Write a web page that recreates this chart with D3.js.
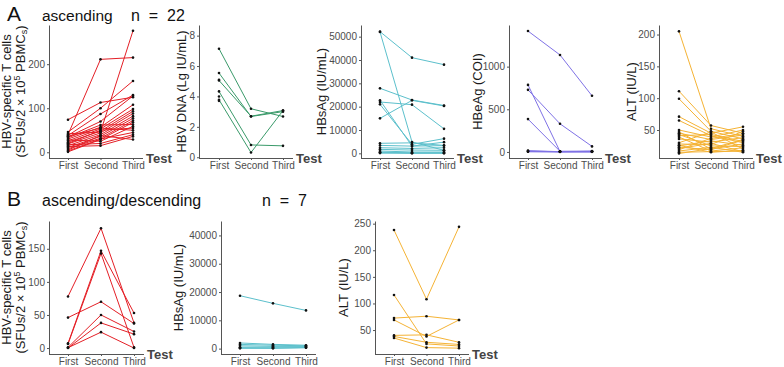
<!DOCTYPE html>
<html>
<head>
<meta charset="utf-8">
<script src="https://cdn.jsdelivr.net/npm/d3@7"></script>
<style>
  body { margin: 0; background: #fff; }
  text { font-family: "Liberation Sans", Arial, sans-serif; }
</style>
</head>
<body>
<svg id="chart" width="784" height="367"></svg>
<script>
const tests = ["First", "Second", "Third"];

// ---- A: ascending (n = 22), one row per patient: [First, Second, Third]
const aTcells = [
  [74, 113, 125], [40, 211, 215], [42, 46, 276], [46, 100, 162],
  [38, 87, 130], [35, 70, 128], [30, 57, 108], [26, 53, 98],
  [23, 48, 93], [19, 44, 88], [15, 40, 82], [11, 36, 77],
  [8, 32, 72], [1, 29, 68], [33, 62, 63], [28, 25, 59],
  [20, 50, 55], [17, 20, 40], [13, 15, 36], [5, 38, 29],
  [36, 55, 50], [3, 30, 45]
];
const aDna = [
  [7.14, 3.19, 2.68], [5.54, 2.68, 3.0], [5.05, 2.70, 3.07],
  [4.33, 0.81, 0.75], [3.78, 0.31, 3.07],
  [5.1, null, null], [4.0, null, null], [3.71, null, null]
];
const aHbsag = [
  [52140, 41000, 38000], [52000, 4860, 1300], [27860, 22860, 20500],
  [15000, 22700, 20300], [22000, 20860, 10500], [21000, 3860, 6300],
  [22710, 3100, 4800], [4300, 4500, 3400], [3400, 3100, 3300],
  [2400, 2100, 2400], [1700, 1400, 1300], [1000, 570, 570],
  [300, 100, 300], [500, 200, 100], [100, 50, 50]
];
const aHbeag = [
  [1417, 1137, 658], [786, 5, 5], [728, 330, 65], [385, 8, 10],
  [15, 3, 2], [10, 2, 8], [5, 1, 2], [2, 1, 1]
];
const aAlt = [
  [205, 52, 40], [111, 57, 45], [99, 48, 36], [71, 45, 55],
  [65, 41, 30], [50, 39, 50], [47, 20, 28], [45, 35, 42],
  [43, 25, 24], [41, 43, 32], [39, 17, 22], [36, 31, 38],
  [30, 47, 20], [28, 27, 48], [26, 15, 18], [25, 33, 26],
  [23, 19, 34], [21, 29, 16], [19, 37, 44], [17, 23, 15],
  [15, 16, 17], [13, 21, 35]
];

// ---- B: ascending/descending (n = 7)
const bTcells = [
  [78, 181, 38], [46, 70, 37], [7, 147, 53], [6, 143, 1],
  [1, 50, 25], [0, 38, 21], [0.5, 24, 0]
];
const bHbsag = [
  [18700, 16000, 13500], [2000, 1500, 1200], [1500, 1200, 1000],
  [1000, 800, 800], [500, 500, 600], [300, 200, 400], [100, 100, 300]
];
const bAlt = [
  [238, 108, 244], [116, 24, 20], [72.5, 76, 69], [69, 38, 69],
  [40, 41, 27], [38, 27, 23], [35, 17, 16]
];

const svg = d3.select("#chart");

function title(label, sub, subSize, n, y) {
  svg.append("text").attr("x", 7).attr("y", y).attr("font-size", 21).attr("fill", "#111").text(label);
  svg.append("text").attr("x", 42).attr("y", y).attr("font-size", subSize).attr("fill", "#111").text(sub);
  svg.append("text").attr("x", n.x).attr("y", y).attr("font-size", 16).attr("fill", "#111")
    .style("white-space", "pre").text(n.label);
}

function panel(cfg) {
  const third = cfg.first + 2 * cfg.step;
  const x = d3.scalePoint().domain(tests).range([cfg.first, third]);
  const y = d3.scaleLinear().domain(cfg.domain).range([cfg.bottom, cfg.top]);
  const g = svg.append("g");

  const rows = cfg.data.map(r => r.map((v, i) => ({ t: tests[i], v })));
  const line = d3.line().defined(d => d.v != null).x(d => x(d.t)).y(d => y(d.v));

  g.selectAll("path.subj").data(rows).join("path")
    .attr("class", "subj")
    .attr("d", line)
    .attr("fill", "none")
    .attr("stroke", cfg.color)
    .attr("stroke-width", 1);

  g.selectAll("circle").data(rows.flat().filter(d => d.v != null)).join("circle")
    .attr("cx", d => x(d.t))
    .attr("cy", d => y(d.v))
    .attr("r", 1.3)
    .attr("fill", "#111");

  const gx = g.append("g")
    .attr("transform", `translate(0,${cfg.bottom})`)
    .call(d3.axisBottom(x).tickSize(2).tickSizeOuter(0).tickPadding(1.5));
  // x axis line runs from the y axis to a little past "Third"
  gx.select(".domain").attr("d", `M${cfg.left},0.5H${third + 10}`);

  const gy = g.append("g")
    .attr("transform", `translate(${cfg.left},0)`)
    .call(d3.axisLeft(y).tickValues(cfg.ticks).tickSize(2).tickSizeOuter(0).tickPadding(2).tickFormat(d3.format("d")));

  [gx, gy].forEach(a => {
    a.select(".domain").attr("stroke", "#555");
    a.selectAll(".tick line").attr("stroke", "#555");
    a.selectAll(".tick text").attr("fill", "#4d4d4d").attr("font-size", 10)
      .attr("font-family", "Liberation Sans, Arial, sans-serif");
  });

  if (cfg.testLabel !== false) {
    g.append("text")
      .attr("x", third + 13)
      .attr("y", cfg.bottom + 5)
      .attr("font-size", 13)
      .attr("font-weight", "bold")
      .attr("fill", "#444")
      .text("Test");
  }

  const midY = (cfg.top + cfg.bottom) / 2;
  cfg.ytitle.forEach((lineParts, i) => {
    const t = g.append("text")
      .attr("transform", `translate(${cfg.titleX[i]},${midY}) rotate(-90)`)
      .attr("text-anchor", "middle")
      .attr("dy", "0.35em")
      .attr("font-size", 13)
      .attr("fill", "#1a1a1a");
    lineParts.forEach(p => {
      t.append("tspan")
        .attr("font-size", p.small ? 9 : null)
        .attr("dy", p.dy || 0)
        .text(p.s);
    });
  });
}

const tcellTitle = [
  [{ s: "HBV-specific T cells" }],
  [{ s: "(SFUs/2 × 10" }, { s: "5", small: true, dy: -5 }, { s: " PBMC", dy: 5 },
   { s: "s", small: true, dy: 2 }, { s: ")", dy: -2 }]
];

title("A", "ascending", 15.5, { x: 131, label: "n  =  22" }, 21);
title("B", "ascending/descending", 16, { x: 262, label: "n  =  7" }, 206);

const rowA = { top: 25, bottom: 158 };
const rowB = { top: 221, bottom: 354 };

panel({ ...rowA, left: 49, first: 68, step: 32.5, domain: [-13, 289], ticks: [0, 100, 200],
  color: "#e41f26", data: aTcells, ytitle: tcellTitle, titleX: [11, 25] });
panel({ ...rowA, left: 199, first: 219, step: 32, domain: [-0.05, 8.7], ticks: [0, 2, 4, 6, 8],
  color: "#3a9a6a", data: aDna, ytitle: [[{ s: "HBV DNA (Lg IU/mL)" }]], titleX: [186] });
panel({ ...rowA, left: 361, first: 380, step: 32, domain: [-2000, 55000], ticks: d3.range(0, 50001, 10000),
  color: "#5cc0cc", data: aHbsag, ytitle: [[{ s: "HBsAg (IU/mL)" }]], titleX: [326] });
panel({ ...rowA, left: 509, first: 528, step: 32, domain: [-71, 1488], ticks: [0, 500, 1000],
  color: "#7f72e6", data: aHbeag, ytitle: [[{ s: "HBeAg (COI)" }]], titleX: [482] });
panel({ ...rowA, left: 659, first: 679, step: 32, domain: [6, 215], ticks: [50, 100, 150, 200],
  color: "#f5b335", data: aAlt, ytitle: [[{ s: "ALT (IU/L)" }]], titleX: [636] });

panel({ ...rowB, left: 49, first: 68, step: 33, domain: [-9, 192], ticks: [0, 50, 100, 150],
  color: "#e41f26", data: bTcells, ytitle: tcellTitle, titleX: [11, 25] });
panel({ ...rowB, left: 221, first: 240, step: 33, domain: [-1900, 45100], ticks: d3.range(0, 40001, 10000),
  color: "#5cc0cc", data: bHbsag, ytitle: [[{ s: "HBsAg (IU/mL)" }]], titleX: [183], testLabel: false });
panel({ ...rowB, left: 375, first: 394, step: 32.5, domain: [5, 255], ticks: [50, 100, 150, 200, 250],
  color: "#f5b335", data: bAlt, ytitle: [[{ s: "ALT (IU/L)" }]], titleX: [348] });
</script>
</body>
</html>
